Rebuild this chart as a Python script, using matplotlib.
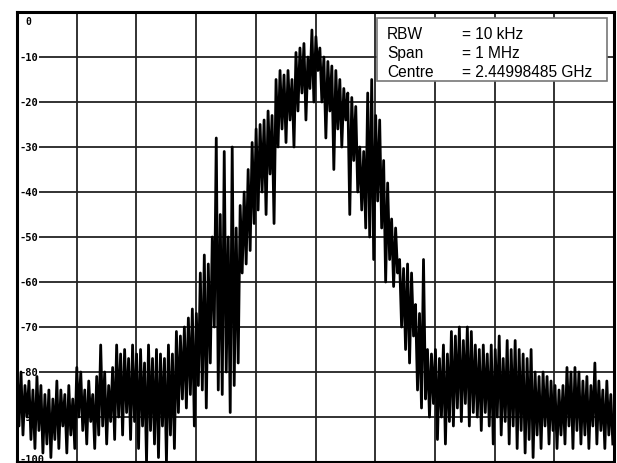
import matplotlib
matplotlib.use("Agg")
import matplotlib.pyplot as plt
import matplotlib.transforms as mtransforms
import numpy as np

# spectrum analyser trace (dB, 4 kHz-ish steps)
# each sweep step has a local max and a local min -> peaks / troughs
peaks = [
    # left noise floor
    -78, -80, -83, -82, -84, -81, -83, -85, -84, -86, -82, -84, -85, -83, -86,
    -79, -80, -84, -82, -85, -81, -74, -80, -83, -79,
    # rising skirt
    -74, -76, -75, -77, -74, -76, -75, -78, -74, -77, -75, -76, -77, -74, -76,
    -71, -72, -70, -68, -66, -67, -58, -54, -56, -50,
    # main lobe, left half
    -28, -45, -31, -50, -30, -48, -43, -40, -35, -29, -26, -25, -24, -22, -23,
    -15, -13, -14, -13, -15, -9, -8, -7, -10, -4,
    # main lobe, right half
    -5.5, -8, -10, -11, -12, -13, -15, -17, -18, -19, -21, -30, -31, -18, -15,
    -23, -24, -33, -38, -46, -48, -55, -57, -56, -58,
    # falling skirt
    -65, -67, -55, -75, -76, -75, -77, -74, -76, -71, -72, -70, -73, -70, -71,
    -74, -75, -74, -76, -74, -75, -72, -77, -73, -75,
    # right noise floor
    -73, -75, -76, -77, -75, -80, -81, -80, -81, -82, -83, -84, -83, -79, -80,
    -79, -80, -82, -81, -83, -78, -82, -84, -82, -85,
]
troughs = [
    -92, -94, -90, -95, -97, -93, -98, -96, -99, -95, -97, -92, -98, -94, -97,
    -90, -93, -96, -91, -97, -94, -92, -96, -91, -95,
    -90, -94, -89, -95, -91, -97, -92, -100, -93, -96, -99, -92, -100, -94, -97,
    -89, -86, -88, -85, -92, -83, -84, -88, -78, -70,
    -84, -85, -80, -89, -83, -78, -58, -56, -53, -47, -44, -40, -45, -36, -47,
    -30, -26, -29, -24, -30, -22, -18, -24, -17, -20,
    -13, -20, -28, -22, -35, -26, -30, -24, -45, -33, -40, -44, -48, -50, -55,
    -42, -48, -60, -55, -61, -58, -70, -75, -78, -72,
    -84, -88, -86, -90, -87, -95, -90, -96, -91, -92, -88, -91, -87, -92, -89,
    -90, -93, -89, -92, -96, -90, -94, -91, -96, -92,
    -97, -93, -98, -95, -99, -94, -97, -92, -96, -93, -97, -94, -96, -92, -97,
    -93, -96, -94, -97, -92, -96, -93, -97, -94, -96,
]

level_ticks = [0, -10, -20, -30, -40, -50, -60, -70, -80, -90, -100]
info_names = ['RBW', 'Span', 'Centre']
info_values = ['= 10 kHz', '= 1 MHz', '= 2.44998485 GHz']

trace = np.column_stack([peaks, troughs]).ravel()
freq = np.linspace(-500, 498, len(trace))   # kHz offset from centre

fig = plt.figure(figsize=(6.17, 4.64), dpi=100)
ax = fig.add_axes([17/617, 1/464, 597/617, 450/464])
ax.set_xlim(-500, 500)
ax.set_ylim(-100, 0)

# graticule
ax.set_xticks(np.arange(-400, 500, 100))
ax.set_yticks(level_ticks[1:-1])
ax.grid(True, color='#222222', lw=1.3)
ax.tick_params(length=0, labelleft=False, labelbottom=False)
for s in ['top', 'left', 'right']:
    ax.spines[s].set_linewidth(2.2)
ax.spines['bottom'].set_linewidth(1.5)

# level labels sit inside the screen
tr = mtransforms.blended_transform_factory(ax.transAxes, ax.transData)
for v in level_ticks:
    if v == 0:
        ax.text(0.014, -2.0, '0', transform=tr, ha='left', va='center',
                fontsize=7, fontweight='bold', family='DejaVu Sans Mono')
        continue
    yy = -99.4 if v == -100 else v
    ax.text(0.004, yy, '-%d' % abs(v), transform=tr, ha='left', va='center',
            fontsize=7.5, fontweight='bold', family='DejaVu Sans Mono', zorder=2,
            bbox=dict(facecolor='white', edgecolor='none', pad=0.5))

ax.plot(freq, trace, color='black', lw=2.0, zorder=3)

# settings box
box = plt.Rectangle((360/597, 1 - 69/450), 230/597, 63/450, transform=ax.transAxes,
                    facecolor='white', edgecolor='#777777', lw=1.2, zorder=4)
ax.add_patch(box)
for i in range(len(info_names)):
    y = 1 - (21.5 + 19*i)/450
    ax.text(370/597, y, info_names[i], transform=ax.transAxes, fontsize=11.2,
            family='Liberation Sans', va='center', zorder=5)
    ax.text(445/597, y, info_values[i], transform=ax.transAxes, fontsize=11.2,
            family='Liberation Sans', va='center', zorder=5)

fig.savefig('out.png', dpi=100)
